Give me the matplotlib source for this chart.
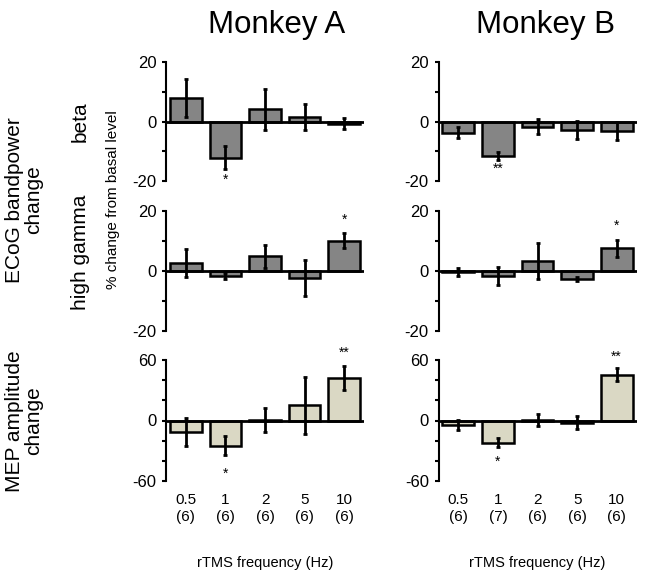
import matplotlib.pyplot as plt
import numpy as np

plt.rcParams['font.family'] = ['Liberation Sans', 'DejaVu Sans']

freqs = ["0.5", "1", "2", "5", "10"]
n_a = ["(6)", "(6)", "(6)", "(6)", "(6)"]
n_b = ["(6)", "(7)", "(6)", "(6)", "(6)"]

# monkey A
beta_a = [7.8, -12.2, 4.1, 1.5, -0.7]
beta_a_err = [6.4, 3.8, 6.8, 4.3, 1.9]
gamma_a = [2.6, -1.8, 4.9, -2.4, 10.1]
gamma_a_err = [4.6, 1.0, 3.8, 5.9, 2.5]
mep_a = [-11.6, -24.8, 0.5, 14.9, 42.0]
mep_a_err = [13.6, 9.0, 11.7, 28.0, 11.6]

# monkey B
beta_b = [-3.8, -11.5, -1.7, -2.8, -3.2]
beta_b_err = [1.9, 1.4, 2.6, 3.0, 2.9]
gamma_b = [-0.3, -1.6, 3.3, -2.6, 7.6]
gamma_b_err = [1.3, 3.0, 6.0, 0.7, 2.8]
mep_b = [-4.7, -22.1, 0.5, -2.0, 45.6]
mep_b_err = [5.0, 4.3, 5.8, 6.0, 6.7]

# significance marks: (bar index, text, y position)
stars_beta_a = [(1, "*", -19.5)]
stars_beta_b = [(1, "**", -16.0)]
stars_gamma_a = [(4, "*", 17.0)]
stars_gamma_b = [(4, "*", 15.0)]
stars_mep_a = [(4, "**", 67.0), (1, "*", -53.0)]
stars_mep_b = [(4, "**", 63.0), (1, "*", -41.0)]

gray = "#858585"
beige = "#dad8c4"

fig = plt.figure(figsize=(6.57, 5.86), dpi=100)

lefts = [166 / 657, 438.5 / 657]
width = 198 / 657
rows = [(62, 181), (211, 331), (360, 481)]

panels = [
    [(beta_a, beta_a_err, stars_beta_a, gray, 20),
     (gamma_a, gamma_a_err, stars_gamma_a, gray, 20),
     (mep_a, mep_a_err, stars_mep_a, beige, 60)],
    [(beta_b, beta_b_err, stars_beta_b, gray, 20),
     (gamma_b, gamma_b_err, stars_gamma_b, gray, 20),
     (mep_b, mep_b_err, stars_mep_b, beige, 60)],
]
ns = [n_a, n_b]

x = np.arange(5)
for c in range(2):
    for r in range(3):
        vals, errs, stars, col, lim = panels[c][r]
        top, bot = rows[r]
        ax = fig.add_axes([lefts[c], 1 - bot / 586, width, (bot - top) / 586])
        ax.bar(x, vals, width=0.8, color=col, edgecolor="black", linewidth=1.8, zorder=2)
        ax.errorbar(x, vals, yerr=errs, fmt="none", ecolor="black", elinewidth=2,
                    capsize=1.5, capthick=2, zorder=3)
        ax.axhline(0, color="black", linewidth=2, zorder=4)
        for i, s, yy in stars:
            ax.text(i, yy, s, ha="center", va="center", fontsize=10)
        ax.set_xlim(-0.5, 4.5)
        ax.set_ylim(-lim, lim)
        ax.set_yticks([-lim, 0, lim])
        ax.set_yticklabels([str(-lim), "0", str(lim)])
        if lim == 20:
            ax.set_yticks([-10, 10], minor=True)
        else:
            ax.set_yticks([-40, -20, 20, 40], minor=True)
        ax.tick_params(axis="y", which="both", direction="out", length=3, width=1.5,
                       labelsize=12, pad=4)
        for sp in ["top", "right", "bottom"]:
            ax.spines[sp].set_visible(False)
        ax.spines["left"].set_linewidth(1.5)
        ax.patch.set_alpha(0)
        if r == 2:
            ax.set_xticks(x)
            ax.set_xticklabels([f + "\n" + n for f, n in zip(freqs, ns[c])], fontsize=11)
            ax.tick_params(axis="x", length=0, pad=9)
        else:
            ax.set_xticks([])

fig.text(277 / 657, 1 - 25 / 586, "Monkey A", ha="center", va="center", fontsize=22.5)
fig.text(545 / 657, 1 - 25 / 586, "Monkey B", ha="center", va="center", fontsize=22.5)

fig.text(265 / 657, 1 - 563 / 586, "rTMS frequency (Hz)", ha="center", va="center", fontsize=10.5)
fig.text(537 / 657, 1 - 563 / 586, "rTMS frequency (Hz)", ha="center", va="center", fontsize=10.5)

fig.text(24 / 657, 1 - 200 / 586, "ECoG bandpower\nchange", rotation=90, ha="center",
         va="center", multialignment="center", fontsize=15, linespacing=1.0)
fig.text(24 / 657, 1 - 421 / 586, "MEP amplitude\nchange", rotation=90, ha="center",
         va="center", multialignment="center", fontsize=15, linespacing=1.0)
fig.text(80 / 657, 1 - 122 / 586, "beta", rotation=90, ha="center", va="center", fontsize=15)
fig.text(80 / 657, 1 - 252 / 586, "high gamma", rotation=90, ha="center", va="center", fontsize=15)
fig.text(113 / 657, 1 - 200 / 586, "% change from basal level", rotation=90, ha="center",
         va="center", fontsize=11)

fig.savefig("out.png", dpi=100)
